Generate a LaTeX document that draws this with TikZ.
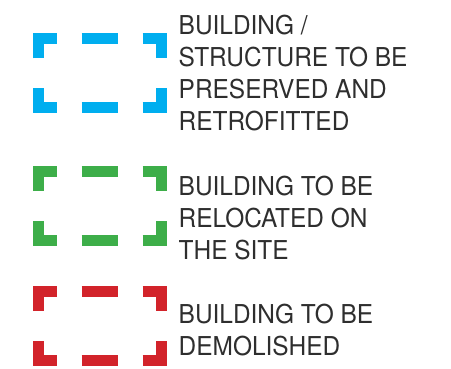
\documentclass[tikz,border=0pt]{standalone}
\usepackage{fontspec}
\setmainfont{TeX Gyre Heros}[FakeStretch=0.94]
\definecolor{legblue}{HTML}{00AEEF}
\definecolor{leggreen}{HTML}{3DAE49}
\definecolor{legred}{HTML}{D2232A}
\definecolor{legtext}{HTML}{2E2E2E}
\tikzset{
  legbox/.pic={
    \def\W{134}\def\H{80}
    \draw[line width=11pt, line join=miter, line cap=butt]
      (5.5,-25) -- (5.5,-5.5) -- (24,-5.5)
      (\W-24,-5.5) -- (\W-5.5,-5.5) -- (\W-5.5,-25)
      (5.5,-\H+25) -- (5.5,-\H+5.5) -- (24,-\H+5.5)
      (\W-24,-\H+5.5) -- (\W-5.5,-\H+5.5) -- (\W-5.5,-\H+25)
      (49,-5.5) -- (85,-5.5)
      (49,-\H+5.5) -- (85,-\H+5.5);
  },
  legtxt/.style={anchor=north west, inner sep=0pt, align=left, text=legtext,
    font=\fontsize{26pt}{32pt}\selectfont}
}
\begin{document}
\begin{tikzpicture}[x=1pt,y=1pt]
\useasboundingbox (0,0) rectangle (451,-368);
\pic[legblue] at (32.7,-33.3) {legbox};
\pic[leggreen] at (32.7,-166) {legbox};
\pic[legred] at (32.7,-286) {legbox};
\node[legtxt] (t1) at (178.5,-15) {BUILDING /\\STRUCTURE TO BE\\PRESERVED AND\\RETROFITTED};
\node[legtxt] (t2) at (178.5,-176) {BUILDING TO BE\\RELOCATED ON\\THE SITE};
\node[legtxt] (t3) at (178.5,-304) {BUILDING TO BE\\DEMOLISHED};
\end{tikzpicture}
\end{document}
